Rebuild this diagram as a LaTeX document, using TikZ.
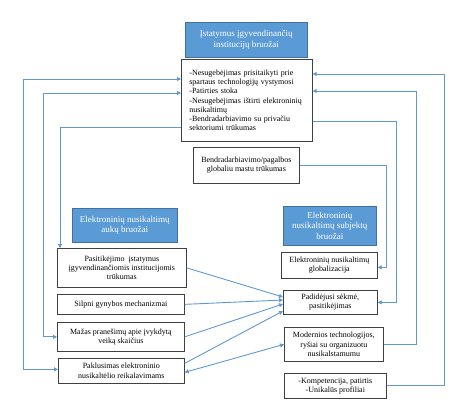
\documentclass[tikz,border=0pt]{standalone}
\usepackage{fontspec}
\setmainfont{Liberation Serif}
\usetikzlibrary{arrows.meta}
\definecolor{bfill}{HTML}{5B9BD5}
\definecolor{bdraw}{HTML}{41719C}
\definecolor{lnc}{HTML}{5F98D2}
\definecolor{bxd}{HTML}{404040}
\tikzset{
  wbox/.style={draw=bxd, fill=white, line width=0.7pt, align=center, inner sep=1pt,
    font=\fontsize{8}{9.3}\selectfont, anchor=north west},
  bbox/.style={draw=bdraw, fill=bfill, line width=0.6pt, align=center, inner sep=1pt,
    text=white, font=\fontsize{9}{10.5}\selectfont, anchor=north west},
  conn/.style={draw=lnc, line width=0.9pt, arrows={-Triangle[length=4pt,width=4pt]}},
  conn2/.style={draw=lnc, line width=0.9pt, arrows={Triangle[length=4pt,width=4pt]-Triangle[length=4pt,width=4pt]}},
}
\begin{document}
\begin{tikzpicture}[x=1pt,y=-1pt]
\useasboundingbox (0,0) rectangle (474,418);
% nodes
\node[bbox, minimum width=122pt, minimum height=35pt] (top) at (185,22) {Įstatymus įgyvendinančių\\institucijų bruožai};
\node[wbox, text width=115pt, inner xsep=8pt, inner ysep=0pt, minimum height=82pt, align=left] (main) at (181,59)
 {-Nesugebėjimas prisitaikyti prie\\spartaus technologijų vystymosi\\-Patirties stoka\\-Nesugebėjimas ištirti elektroninių\\nusikaltimų\\-Bendradarbiavimo su privačiu\\sektoriumi trūkumas};
\node[wbox, minimum width=106pt, minimum height=36pt] (ben) at (193,147) {Bendradarbiavimo/pagalbos\\globaliu mastu trūkumas};
\node[bbox, minimum width=105pt, minimum height=34pt] (lb) at (72,208) {Elektroninių nusikaltimų\\aukų bruožai};
\node[wbox, minimum width=129pt, minimum height=39pt] (pas) at (57,248) {Pasitikėjimo \ įstatymus\\įgyvendinančiomis institucijomis\\trūkumas};
\node[wbox, minimum width=127pt, minimum height=20pt] (sil) at (57,294) {Silpni gynybos mechanizmai};
\node[wbox, minimum width=127pt, minimum height=29pt] (maz) at (57,322) {Mažas pranešimų apie įvykdytą\\veiką skaičius};
\node[wbox, minimum width=126pt, minimum height=25pt] (pak) at (58,358) {Paklusimas elektroninio\\nusikaltėlio reikalavimams};
\node[bbox, minimum width=93pt, minimum height=39pt] (rb) at (283,206) {Elektroninių\\nusikaltimų subjektų\\bruožai};
\node[wbox, minimum width=96pt, minimum height=26pt] (glob) at (281,252) {Elektroninių nusikaltimų\\globalizacija};
\node[wbox, minimum width=94pt, minimum height=24pt] (pad) at (283,290) {Padidėjusi sėkmė,\\pasitikėjimas};
\node[wbox, minimum width=99pt, minimum height=34pt] (mod) at (284,327) {Modernios technologijos,\\ryšiai su organizuotu\\nusikalstamumu};
\node[wbox, minimum width=102pt, minimum height=25pt] (kom) at (284,373) {-Kompetencija, patirtis\\-Unikalūs profiliai};
% left-side connectors
\draw[conn2] ([yshift=-20pt]main.north west) -- ++(-158pt,0) |- ([yshift=1.5pt]pak.west);
\draw[conn2] ([yshift=-34pt]main.north west) -- ++(-138pt,0) |- (maz.west);
\draw[conn] ([yshift=-68pt]main.north west) -| ([xshift=3pt]pas.north west);
% right-side connectors
\draw[conn] ([yshift=-62pt]main.north east) -- ++(84pt,0) |- (pad.east);
\draw[conn] (mod.east) -- ++(33pt,0) |- ([yshift=-32pt]main.north east);
\draw[conn] (kom.east) -- ++(58pt,0) |- ([yshift=-15pt]main.north east);
\draw[conn] (ben.east) -- ++(87pt,0) |- ([yshift=-2pt]glob.east);
% into Padidejusi
\draw[conn] (pas.east) -- ([yshift=-7pt]pad.north west);
\draw[conn] (sil.east) -- ([yshift=-10pt]pad.north west);
\draw[conn] (maz.east) -- ([yshift=-14pt]pad.north west);
\draw[conn] ([yshift=7.5pt]pak.east) -- ([yshift=-21pt]pad.north west);
\draw[conn2] ([yshift=-1.5pt]pak.east) -- (mod.west);
\end{tikzpicture}
\end{document}
